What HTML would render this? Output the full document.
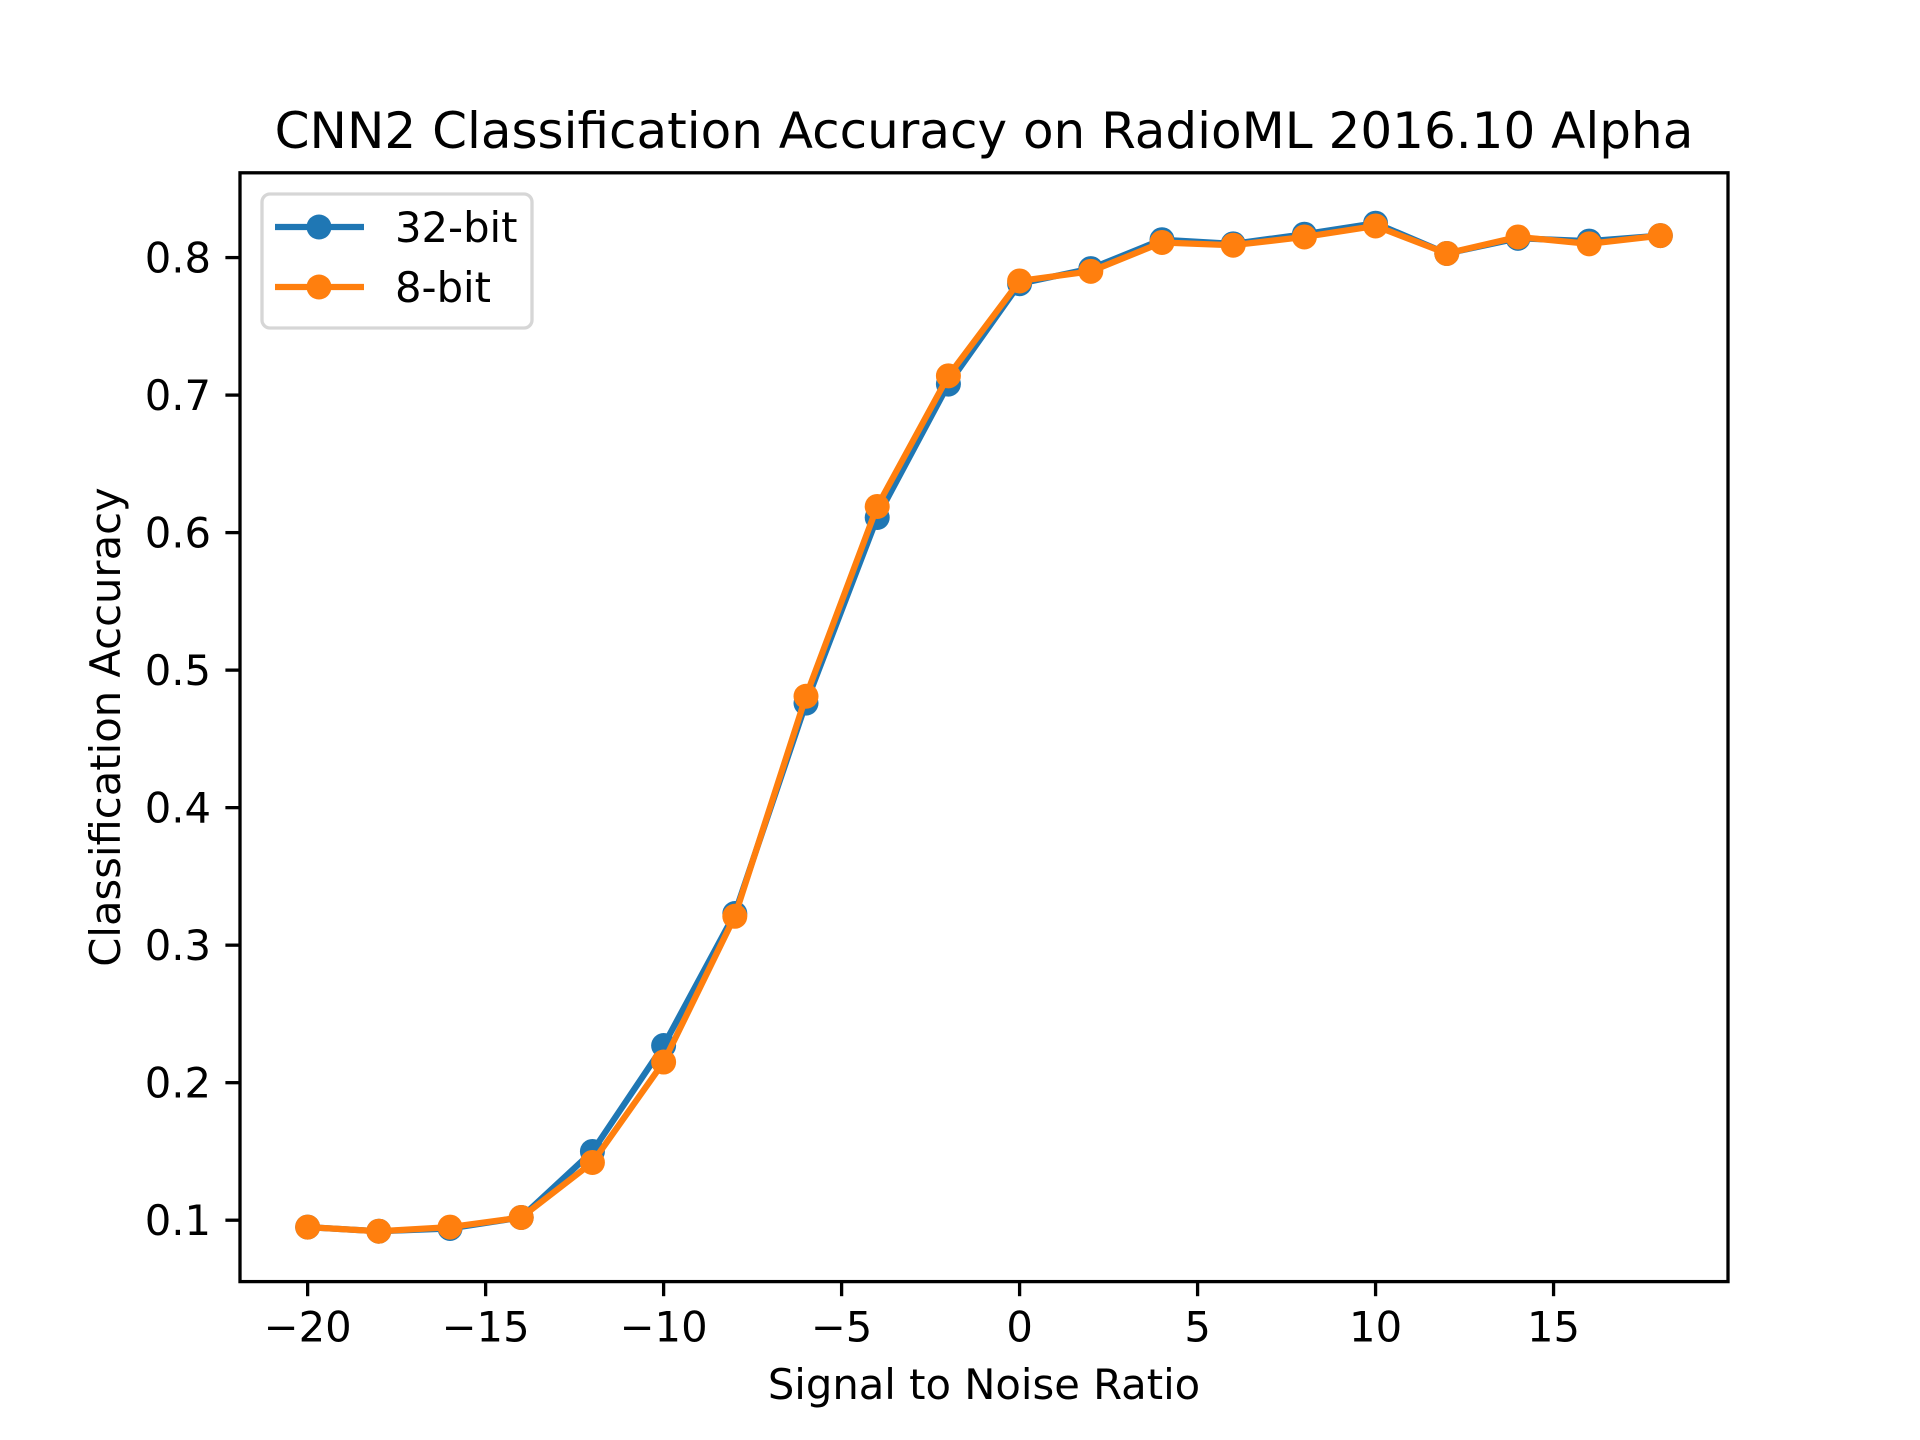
<!DOCTYPE html>
<html><head><meta charset="utf-8"><style>body{margin:0;background:#fff}svg{display:block;font-family:"DejaVu Sans","Liberation Sans",sans-serif}</style></head>
<body>
<svg width="1920" height="1440" viewBox="0 0 1920 1440" id="chart">
<rect width="1920" height="1440" fill="#fff"/>
<text x="984" y="148" font-size="50" text-anchor="middle">CNN2 Classification Accuracy on RadioML 2016.10 Alpha</text>
<g id="plot"></g>
<text x="984" y="1399" font-size="41.7" text-anchor="middle">Signal to Noise Ratio</text>
<text transform="translate(120,727) rotate(-90)" font-size="41.7" text-anchor="middle">Classification Accuracy</text>
<g>
<rect x="262" y="194" width="270" height="134" rx="8" fill="#fff" stroke="#d6d6d6" stroke-width="3.3"/>
<g><line x1="275" y1="227" x2="364" y2="227" stroke="#1f77b4" stroke-width="6.25"/><circle cx="319" cy="227" r="12.5" fill="#1f77b4"/><text x="395" y="242" font-size="41.7">32-bit</text></g>
<g><line x1="275" y1="287" x2="364" y2="287" stroke="#ff7f0e" stroke-width="6.25"/><circle cx="319" cy="287" r="12.5" fill="#ff7f0e"/><text x="395" y="302" font-size="41.7">8-bit</text></g>
</g>
</svg>
<script>
const snr=[-20,-18,-16,-14,-12,-10,-8,-6,-4,-2,0,2,4,6,8,10,12,14,16,18];
const acc32=[0.095,0.092,0.094,0.102,0.150,0.227,0.323,0.476,0.611,0.708,0.781,0.792,0.813,0.810,0.817,0.825,0.803,0.814,0.812,0.816];
const acc8=[0.095,0.092,0.095,0.102,0.142,0.215,0.321,0.481,0.619,0.714,0.783,0.790,0.811,0.809,0.815,0.823,0.803,0.815,0.810,0.816];
const xTicks=[-20,-15,-10,-5,0,5,10,15];
const yTicks=[0.1,0.2,0.3,0.4,0.5,0.6,0.7,0.8];
const L=240,R=1728,T=172.8,B=1281.6;
const xmin=Math.min(...snr),xmax=Math.max(...snr),xm=(xmax-xmin)*0.05;
const all=acc32.concat(acc8),ymn=Math.min(...all),ymx=Math.max(...all),ym=(ymx-ymn)*0.05;
const X=v=>L+(v-(xmin-xm))/((xmax+xm)-(xmin-xm))*(R-L);
const Y=v=>B-(v-(ymn-ym))/((ymx+ym)-(ymn-ym))*(B-T);
const NS="http://www.w3.org/2000/svg",g=document.getElementById('plot');
function mk(t,a){const e=document.createElementNS(NS,t);for(const k in a)e.setAttribute(k,a[k]);g.appendChild(e);return e;}
function series(d,c,n){
 const p=mk('polyline',{points:snr.map((s,i)=>X(s)+','+Y(d[i])).join(' '),fill:'none',stroke:c,'stroke-width':6.25,'stroke-linejoin':'round'});
 
 
 snr.forEach((s,i)=>{const m=mk('circle',{cx:X(s),cy:Y(d[i]),r:12.5,fill:c});
 
 });
}
series(acc32,'#1f77b4','series-32bit');
series(acc8,'#ff7f0e','series-8bit');
xTicks.forEach(v=>{const l=mk('line',{x1:X(v),x2:X(v),y1:B,y2:B+14.6,stroke:'#000','stroke-width':3.3});
 
 
 const t=mk('text',{x:X(v),y:B+60,'font-size':41.7,'text-anchor':'middle'});t.textContent=(v<0?'\u2212'+(-v):v);
 
 });
yTicks.forEach(v=>{const l=mk('line',{x1:L-14.6,x2:L,y1:Y(v),y2:Y(v),stroke:'#000','stroke-width':3.3});
 
 
 const t=mk('text',{x:L-29,y:Y(v)+15,'font-size':41.7,'text-anchor':'end'});t.textContent=v.toFixed(1);
 
 });
const f=mk('rect',{x:L,y:T,width:R-L,height:B-T,fill:'none',stroke:'#000','stroke-width':3.3});


</script>
</body></html>
